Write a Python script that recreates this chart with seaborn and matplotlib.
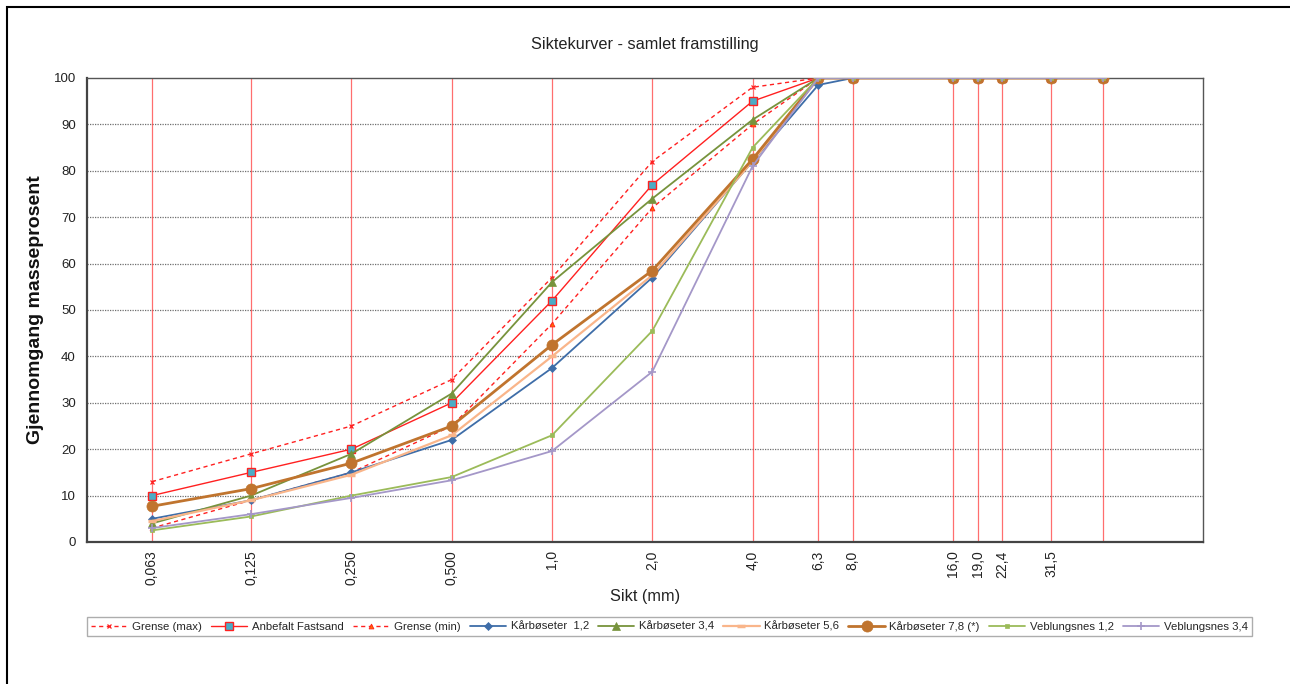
import matplotlib
matplotlib.use("Agg")
import matplotlib.pyplot as plt
import seaborn as sns
import pandas as pd
import numpy as np
from matplotlib.patches import Rectangle
from matplotlib.ticker import FixedLocator, NullLocator

sns.set_theme(style="white")
plt.rcParams['font.family'] = ['Liberation Sans', 'DejaVu Sans']

sieves = [0.063, 0.125, 0.25, 0.5, 1.0, 2.0, 4.0, 6.3, 8.0, 16.0, 19.0, 22.4, 31.5, 45.0]
tick_labels = ["0,063", "0,125", "0,250", "0,500", "1,0", "2,0", "4,0", "6,3", "8,0",
               "16,0", "19,0", "22,4", "31,5", ""]

grense_max = [13, 19, 25, 35, 57, 82, 98, 100, 100, 100, 100, 100, 100, 100]
anbefalt = [10, 15, 20, 30, 52, 77, 95, 100, 100, 100, 100, 100, 100, 100]
grense_min = [3, 9, 15, 25, 47, 72, 90, 100, 100, 100, 100, 100, 100, 100]
kar_12 = [5, 9, 15, 22, 37.5, 57, 82, 98.5, 100, 100, 100, 100, 100, 100]
kar_34 = [4, 10, 19, 32, 56, 74, 91, 100, 100, 100, 100, 100, 100, 100]
kar_56 = [4.5, 9, 14.5, 23, 40, 57.5, 82, 100, 100, 100, 100, 100, 100, 100]
kar_78 = [7.7, 11.5, 17, 25, 42.5, 58.5, 82.5, 100, 100, 100, 100, 100, 100, 100]
veb_12 = [2.5, 5.5, 10, 14, 23, 45.5, 85, 100, 100, 100, 100, 100, 100, 100]
veb_34 = [3, 6, 9.5, 13.3, 19.6, 36.7, 81, 100, 100, 100, 100, 100, 100, 100]

series = [
    ("Grense (max)", grense_max, dict(color="#FF2020", ls=(0, (3, 2.5)), lw=1.0, marker="x", ms=3.5, mfc="#FF2020", mec="#FF2020", mew=0.9)),
    ("Anbefalt Fastsand", anbefalt, dict(color="#FF2020", ls="-", lw=1.0, marker="s", ms=5.5, mfc="#4BACC6", mec="#FF2020", mew=1.0)),
    ("Grense (min)", grense_min, dict(color="#FF2020", ls=(0, (3, 2.5)), lw=1.0, marker="^", ms=3.5, mfc="#FF6A00", mec="#FF2020", mew=0.6)),
    ("Kårbøseter  1,2", kar_12, dict(color="#3E6DA8", ls="-", lw=1.3, marker="D", ms=4, mfc="#3E6DA8", mec="#3E6DA8", mew=0.5)),
    ("Kårbøseter 3,4", kar_34, dict(color="#77933C", ls="-", lw=1.3, marker="^", ms=5.5, mfc="#77933C", mec="#77933C", mew=0.5)),
    ("Kårbøseter 5,6", kar_56, dict(color="#F9B58A", ls="-", lw=1.6, marker="_", ms=6, mfc="#F9B58A", mec="#F9B58A", mew=2.5)),
    ("Kårbøseter 7,8 (*)", kar_78, dict(color="#C0742E", ls="-", lw=2.0, marker="o", ms=8, mfc="#C0742E", mec="#C0742E", mew=0.5)),
    ("Veblungsnes 1,2", veb_12, dict(color="#9BBB59", ls="-", lw=1.3, marker="s", ms=3, mfc="#9BBB59", mec="#9BBB59", mew=0.5)),
    ("Veblungsnes 3,4", veb_34, dict(color="#A497C8", ls="-", lw=1.3, marker="+", ms=6, mfc="#A497C8", mec="#A497C8", mew=1.2)),
]

fig = plt.figure(figsize=(12.9, 6.84), dpi=100)
ax = fig.add_axes([87/1290, 1 - 542/684, (1203-87)/1290, (542-78)/684])

# grid
for yv in range(10, 100, 10):
    ax.axhline(yv, color="#6F6F6F", lw=0.9, ls=(0, (1, 1)), zorder=0)
for s in sieves:
    ax.axvline(s, color="#FF3030", lw=0.9, alpha=0.7, zorder=0)

for i, (name, vals, st) in enumerate(series):
    df = pd.DataFrame({"Sikt": sieves, "Gjennomgang": vals})
    sns.lineplot(data=df, x="Sikt", y="Gjennomgang", ax=ax, label=name,
                 color=st["color"], linestyle=st["ls"], linewidth=st["lw"],
                 marker=st["marker"], markersize=st["ms"], markerfacecolor=st["mfc"],
                 markeredgecolor=st["mec"], markeredgewidth=st["mew"], zorder=3 + i)

ax.set_xscale("log")
ax.set_xlim(0.0402, 90)
ax.set_ylim(0, 100)
ax.xaxis.set_major_locator(FixedLocator(sieves))
ax.xaxis.set_minor_locator(NullLocator())
ax.set_xticklabels(tick_labels, rotation=90, fontsize=10, color="#222222")
ax.set_yticks(range(0, 101, 10))
ax.set_yticklabels([str(v) for v in range(0, 101, 10)], fontsize=9.5, color="#222222")
ax.tick_params(axis="both", length=0, pad=6)
ax.tick_params(axis="y", pad=8)

ax.set_xlabel("Sikt (mm)", fontsize=11.7, color="#222222", labelpad=3)
ax.set_ylabel("Gjennomgang masseprosent", fontsize=14, fontweight="bold", color="#111111", labelpad=7)
ax.set_title("Siktekurver - samlet framstilling", fontsize=11.7, color="#222222", pad=21)

for side in ["top", "right"]:
    ax.spines[side].set_color("#555555")
    ax.spines[side].set_linewidth(1.0)
for side in ["left", "bottom"]:
    ax.spines[side].set_color("#444444")
    ax.spines[side].set_linewidth(1.6)

leg = ax.legend(loc="upper center", bbox_to_anchor=(669.5/1290, 1 - 617/684),
                bbox_transform=fig.transFigure, ncol=9, fontsize=8.2, frameon=True,
                fancybox=False, edgecolor="#999999", borderpad=0.35, handlelength=3.2,
                handletextpad=0.4, columnspacing=0.8, borderaxespad=0)
leg.get_frame().set_linewidth(1.0)

fig.add_artist(Rectangle((7/1290, -0.05), 1.1, 1 - 7/684 + 0.05, transform=fig.transFigure,
                         fill=False, edgecolor="black", lw=1.5))

fig.savefig("out.png", dpi=100)
